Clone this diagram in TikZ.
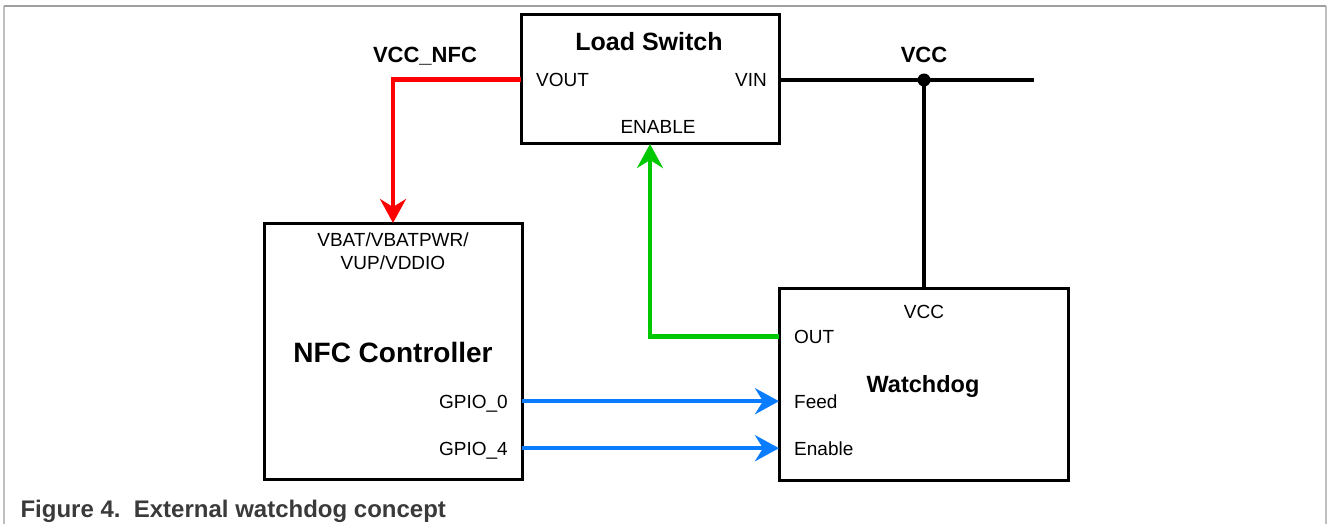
\documentclass[tikz,border=0pt]{standalone}
\usepackage{fontspec}
\setmainfont{Liberation Sans}
\usepackage{xcolor}
\usepackage{tikz}
\usetikzlibrary{shapes,arrows.meta,positioning}

\definecolor{netred}{HTML}{FF0000}
\definecolor{netgreen}{HTML}{00C800}
\definecolor{netblue}{HTML}{0A7CFF}
\definecolor{captiongray}{HTML}{3A3A3A}

\begin{document}
\begin{tikzpicture}[x=1pt, y=-1pt,
        block/.style={draw, rectangle, line width=3pt, outer sep=0pt, inner sep=0pt, anchor=north west},
        pin/.style={inner sep=0pt, font=\fontsize{19}{23}\selectfont},
        net/.style={inner sep=0pt, font=\fontsize{22}{26}\selectfont\bfseries},
        wire/.style={line width=4.5pt},
        >={Stealth[length=24pt, width=26pt, inset=8pt]}]
        \useasboundingbox (0,0) rectangle (1328,524);

        % Frame round the figure
        \draw[gray!50, line width=1.5pt] (4,6) -- (4,524);
        \draw[gray!50, line width=1.5pt] (1326,6) -- (1326,524);
        \draw[gray!75, line width=1.5pt] (4,6) -- (1326,6);

        % Top: Load Switch
        \node[block, minimum width=258pt, minimum height=129pt] (ls) at (521,15) {};
        \node[font=\fontsize{25}{30}\selectfont\bfseries, anchor=base] (lstitle) at (649,51) {Load Switch};
        \node[pin, anchor=base west] (vout) at (536,87) {VOUT};
        \node[pin, anchor=base east] (vin) at (767,87) {VIN};
        \node[pin, anchor=base] (lsen) at (658,134) {ENABLE};

        % Left side: NFC Controller
        \node[block, minimum width=258pt, minimum height=256pt] (nfc) at (264,223) {};
        \node[pin, align=center, anchor=north] (vbat) at (393,233) {VBAT/VBATPWR/\\VUP/VDDIO};
        \node[font=\fontsize{28}{33}\selectfont\bfseries, anchor=base] (nfctitle) at (393,362) {NFC Controller};
        \node[pin, anchor=base east] (gpio0) at (508,408) {GPIO\_0};
        \node[pin, anchor=base east] (gpio4) at (508,455) {GPIO\_4};

        % Right side: Watchdog
        \node[block, minimum width=289pt, minimum height=192pt] (wd) at (779,288) {};
        \node[pin, anchor=base] (wdvcc) at (924,318) {VCC};
        \node[pin, anchor=base west] (wdout) at (794,343) {OUT};
        \node[font=\fontsize{23.5}{28}\selectfont\bfseries, anchor=base] (wdtitle) at (923,392) {Watchdog};
        \node[pin, anchor=base west] (feed) at (794,408) {Feed};
        \node[pin, anchor=base west] (wden) at (794,455) {Enable};

        % VCC rail with junction
        \coordinate (vccjoint) at (924,80);
        \coordinate (vccend) at (1034,80);
        \draw[line width=4pt] (ls.east |- vccjoint) -- (vccend);
        \draw[line width=4pt] (vccjoint) -- (vccjoint |- wd.north);
        \node[circle, fill, inner sep=0pt, outer sep=0pt, minimum size=13pt] (vccdot) at (vccjoint) {};
        \node[net, above=11pt of vccdot] (vcclbl) {VCC};

        % Switched supply to the NFC controller
        \node[net, anchor=base] (vccnfc) at (425,63) {VCC\_NFC};
        \draw[wire, netred, ->] (ls.west) -| (nfc.north);

        % Watchdog output enables the switch
        \draw[wire, netgreen, ->] (wd.west |- wdout) -| (ls.south);

        % GPIO lines into the watchdog
        \draw[wire, netblue, ->] (nfc.east |- feed) -- (feed -| wd.west);
        \draw[wire, netblue, ->] (nfc.east |- wden) -- (wden -| wd.west);

        % Caption
        \node[font=\fontsize{24}{29}\selectfont\bfseries, text=captiongray, anchor=base west] (caption) at (17,517) {Figure 4.~~External watchdog concept};
    \end{tikzpicture}
\end{document}
